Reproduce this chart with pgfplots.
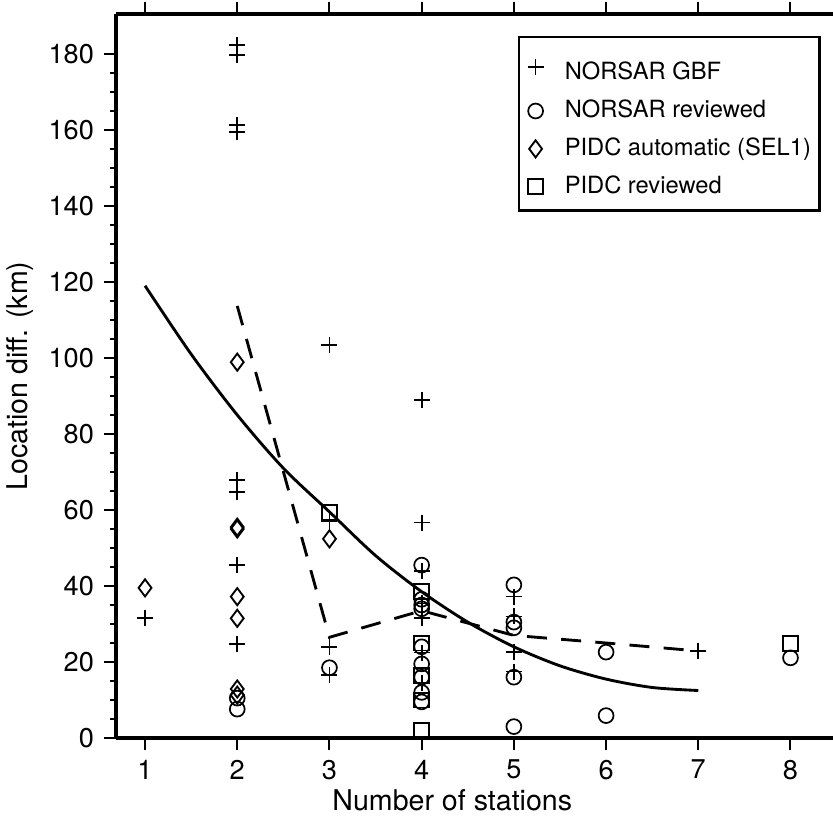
\documentclass[border=0pt]{standalone}
\usepackage{fontspec}
\setmainfont{TeX Gyre Heros}
\usepackage{pgfplots}
\pgfplotsset{compat=1.18}
\usetikzlibrary{calc}

% NORSAR GBF
\pgfplotstableread{
x y
1 31.6
2 182.4
2 179.7
2 161.3
2 159.4
2 67.9
2 64.8
2 45.5
2 24.7
3 103.4
3 57
3 24
3 16.5
4 88.9
4 56.7
4 44
4 35.4
4 31.5
4 22.5
4 14.5
5 37.2
5 32
5 22.7
5 17.5
7 22.9
}\gbf
% NORSAR reviewed
\pgfplotstableread{
x y
2 10.5
2 7.6
3 18.5
4 45.5
4 36.5
4 35
4 34
4 24
4 19.5
4 16
4 12
4 9.5
5 40.3
5 30.5
5 29
5 16
5 3
6 22.6
6 5.9
8 21.1
}\norrev
% PIDC automatic
\pgfplotstableread{
x y
1 39.5
2 98.9
2 55.5
2 55
2 37.2
2 31.5
2 12.9
2 11.3
3 52.4
}\pidcauto
% PIDC reviewed
\pgfplotstableread{
x y
3 59.3
4 38.5
4 25
4 16.5
4 10
4 2
8 24.9
}\pidcrev

\newcommand{\st}{\rule[-2pt]{0pt}{6pt}}

\begin{document}
\begin{tikzpicture}
\begin{axis}[
  scale only axis, width=250.95pt, height=253.4pt,
  xmin=0.685, xmax=8.461, ymin=0, ymax=190.5,
  axis x line=box, axis y line=left,
  axis line style={-, line width=1.1pt},
  xtick={1,...,8}, ytick={0,20,...,180},
  minor y tick num=3,
  xticklabel pos=lower,
  tick align=outside,
  major tick length=4.2pt, minor tick length=2pt,
  tick style={line width=0.7pt, black},
  /pgf/number format/assume math mode=true,
  tick label style={font=\fontsize{9.5}{11}\selectfont},
  xlabel={Number of stations}, ylabel={Location diff. (km)},
  label style={font=\fontsize{10}{12}\selectfont},
  xlabel style={at={(axis description cs:0.469,0)}, anchor=center, yshift=-21.7pt},
  ylabel style={at={(axis description cs:-0.134,0.5)}, anchor=center},
  legend style={at={(rel axis cs:0.983,0.970)}, anchor=north east,
    draw=black, line width=0.9pt, font=\fontsize{8.3}{10}\selectfont,
    inner xsep=3pt, inner ysep=4.4pt, row sep=5.55pt, column sep=7.4pt,
    nodes={inner sep=0pt}},
  legend cell align=left,
  legend image code/.code={\draw[mark repeat=2,mark phase=2] plot coordinates {(-3pt,0pt)(0pt,0pt)(3pt,0pt)};},
]
\addplot[only marks, mark=+, mark size=2.8pt, line width=0.6pt] table {\gbf};
\addlegendentry{\rule[-2pt]{0pt}{12.6pt}NORSAR GBF}
\addplot[only marks, mark=o, mark size=2.6pt, line width=0.6pt] table {\norrev};
\addlegendentry{\st NORSAR reviewed}
\addplot[only marks, mark=diamond, mark size=3pt, line width=0.65pt] table {\pidcauto};
\addlegendentry{\st PIDC automatic (SEL1)}
\addplot[only marks, mark=square, mark size=2.6pt, line width=0.65pt] table {\pidcrev};
\addlegendentry{\st PIDC reviewed}
\addplot[forget plot, line width=1pt, dash pattern=on 7pt off 5pt] coordinates {(2,113.7)(3,26.5)(4,33.5)(5,27)(6,25)(7,22.9)};
\addplot[forget plot, line width=1pt, smooth] coordinates {(1,119)(1.5,101)(2,85)(2.5,71)(3,59.5)(3.5,48)(4,38.5)(4.5,30.5)(5,24)(5.5,19)(6,15.5)(6.5,13.3)(7,12.5)};
\coordinate (sw) at (rel axis cs:0,0);
\end{axis}
\pgfresetboundingbox
\path[use as bounding box] ($(sw)+(-40.6pt,-29.4pt)$) rectangle ($(sw)+(250.95pt,258.3pt)$);
\end{tikzpicture}
\end{document}
